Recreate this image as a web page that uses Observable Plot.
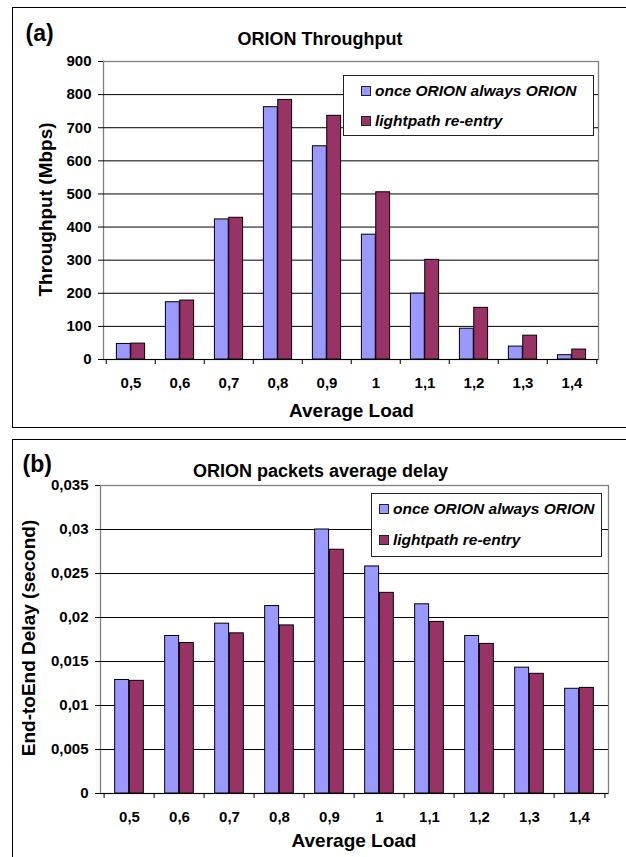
<!DOCTYPE html>
<html><head><meta charset="utf-8">
<script src="https://cdn.jsdelivr.net/npm/d3@7"></script>
<script src="https://cdn.jsdelivr.net/npm/@observablehq/plot@0.6"></script>
<style>
body{margin:0;background:#fff;overflow:hidden;}
#page{position:relative;width:626px;height:857px;overflow:hidden;font-family:"Liberation Sans",Arial,sans-serif;background:#fff;}
.box{position:absolute;border:1.5px solid #000;box-sizing:border-box;}
.chart{position:absolute;left:0;}
.chart svg{display:block;}
.legend{position:absolute;background:#fff;border:1px solid #222;box-sizing:border-box;}
.sw{position:absolute;border:1px solid #222;box-sizing:border-box;width:10px;height:10px;}
.lt{position:absolute;white-space:nowrap;font-weight:bold;font-style:italic;font-size:15.5px;line-height:15.5px;color:#000;}
</style></head><body><div id="page"></div><script>
// ---- data ----
const loads = ["0,5","0,6","0,7","0,8","0,9","1","1,1","1,2","1,3","1,4"];
const seriesNames = ["once ORION always ORION", "lightpath re-entry"];
const seriesColors = ["#9999FF", "#993366"];

const throughputOnce    = [47, 173, 423, 762, 644, 377, 199, 93, 39, 13];
const throughputReentry = [48, 178, 428, 784, 736, 505, 301, 156, 72, 30];
const throughputTicks  = [0, 100, 200, 300, 400, 500, 600, 700, 800, 900];
const throughputLabels = ["0","100","200","300","400","500","600","700","800","900"];

const delayOnce    = [0.0129, 0.0179, 0.0193, 0.0213, 0.0300, 0.0258, 0.0215, 0.0179, 0.0143, 0.0119];
const delayReentry = [0.0128, 0.0171, 0.0182, 0.0191, 0.0277, 0.0228, 0.0195, 0.0170, 0.0136, 0.0120];
const delayTicks  = [0, 0.005, 0.01, 0.015, 0.02, 0.025, 0.03, 0.035];
const delayLabels = ["0","0,005","0,01","0,015","0,02","0,025","0,03","0,035"];

const FONT = '"Liberation Sans", Arial, sans-serif';
const page = document.getElementById("page");

function addBox(left, top, width, height) {
  const b = document.createElement("div");
  b.className = "box";
  Object.assign(b.style, {left: left + "px", top: top + "px", width: width + "px", height: height + "px"});
  page.appendChild(b);
}

function chart(o) {
  const W = 626;
  const bw = (W - o.ml - o.mr) / loads.length;
  const rowsA = loads.map((l, i) => ({load: l, v: o.a[i]}));
  const rowsB = loads.map((l, i) => ({load: l, v: o.b[i]}));
  const lab = new Map(o.ticks.map((t, i) => [t, o.labels[i]]));
  const svg = Plot.plot({
    width: W, height: o.height,
    marginTop: o.mt, marginBottom: o.mb, marginLeft: o.ml, marginRight: o.mr,
    style: {fontFamily: FONT, fontSize: "15px", fontWeight: "bold", background: "transparent", color: "#000", overflow: "visible"},
    x: {type: "band", domain: loads, padding: 0, label: null},
    y: {domain: [o.ticks[0], o.ticks[o.ticks.length - 1]], label: null},
    marks: [
      Plot.frame({stroke: "#808080", strokeWidth: 1.3}),
      Plot.ruleY(o.ticks.slice(1, -1), {stroke: "#000", strokeWidth: 1}),
      Plot.barY(rowsA, {x: "load", y: "v", fill: seriesColors[0], stroke: "#000", strokeWidth: 1, insetLeft: bw * 0.21, insetRight: bw * 0.5}),
      Plot.barY(rowsB, {x: "load", y: "v", fill: seriesColors[1], stroke: "#000", strokeWidth: 1, insetLeft: bw * 0.5, insetRight: bw * 0.21}),
      Plot.ruleY([o.ticks[0]], {stroke: "#000", strokeWidth: 1.2}),
      Plot.axisY({ticks: o.ticks, tickSize: 5, tickPadding: 7, tickFormat: d => lab.get(d), fontSize: 15, fontWeight: "bold", label: null}),
      Plot.axisX(loads, {tickSize: 5, tickFormat: () => "", dx: -bw / 2, label: null}),
      Plot.axisX([loads[loads.length - 1]], {tickSize: 5, tickFormat: () => "", dx: bw / 2, label: null}),
      Plot.axisX({tickSize: 0, tickPadding: 18, fontSize: 15, fontWeight: "bold", label: null}),
      Plot.text([o.title], {text: d => d, frameAnchor: "top", textAnchor: "middle", dx: o.titleDx, dy: o.titleDy, fontSize: 18, fontWeight: "bold", fill: "#000"}),
      Plot.text([o.tag], {text: d => d, frameAnchor: "top-left", textAnchor: "start", lineAnchor: "middle", dx: o.tagDx, dy: o.tagDy, fontSize: 23, fontWeight: "bold", fill: "#000"}),
      Plot.text([o.yTitle], {text: d => d, frameAnchor: "left", textAnchor: "middle", lineAnchor: "middle", rotate: -90, dx: o.yDx, dy: o.yDy, fontSize: 19, fontWeight: "bold", fill: "#000"}),
      Plot.text(["Average Load"], {text: d => d, frameAnchor: "bottom", textAnchor: "middle", lineAnchor: "middle", dx: o.xDx, dy: o.xDy, fontSize: 19, fontWeight: "bold", fill: "#000"})
    ]
  });
  const wrap = document.createElement("div");
  wrap.className = "chart";
  wrap.style.top = o.top + "px";
  wrap.appendChild(svg);
  page.appendChild(wrap);
}

function legend(left, top, width, height, swX, txtX, baselines) {
  const lg = document.createElement("div");
  lg.className = "legend";
  Object.assign(lg.style, {left: left + "px", top: top + "px", width: width + "px", height: height + "px"});
  seriesNames.forEach((name, i) => {
    const sw = document.createElement("div");
    sw.className = "sw";
    Object.assign(sw.style, {left: (swX - 1) + "px", top: (baselines[i] - 10.5 - 1) + "px", background: seriesColors[i]});
    lg.appendChild(sw);
    const t = document.createElement("div");
    t.className = "lt";
    t.textContent = name;
    Object.assign(t.style, {left: (txtX - 1) + "px", top: (baselines[i] - 0.8465 * 15.5 - 1) + "px"});
    lg.appendChild(t);
  });
  page.appendChild(lg);
}

addBox(12, 7, 700, 421);
addBox(12, 439, 700, 500);

chart({
  top: 0, height: 428, mt: 61, mb: 69, ml: 103, mr: 28,
  a: throughputOnce, b: throughputReentry, ticks: throughputTicks, labels: throughputLabels,
  title: "ORION Throughput", tag: "(a)", yTitle: "Throughput (Mbps)",
  titleDx: -31, titleDy: -29.5, tagDx: -78, tagDy: -28.3, yDx: -58, yDy: -1, xDx: 0.5, xDy: 51.6
});

chart({
  top: 440, height: 417, mt: 45, mb: 64, ml: 100, mr: 18,
  a: delayOnce, b: delayReentry, ticks: delayTicks, labels: delayLabels,
  title: "ORION packets average delay", tag: "(b)", yTitle: "End-toEnd Delay (second)",
  titleDx: -34, titleDy: -20.8, tagDx: -78, tagDy: -20.6, yDx: -71.5, yDy: -1.5, xDx: -0.5, xDy: 47.3
});

legend(343, 75, 251, 61, 17.7, 32, [21.5, 51.5]);
legend(371, 493, 231, 64, 8, 22, [21.5, 52.5]);
</script></body></html>
